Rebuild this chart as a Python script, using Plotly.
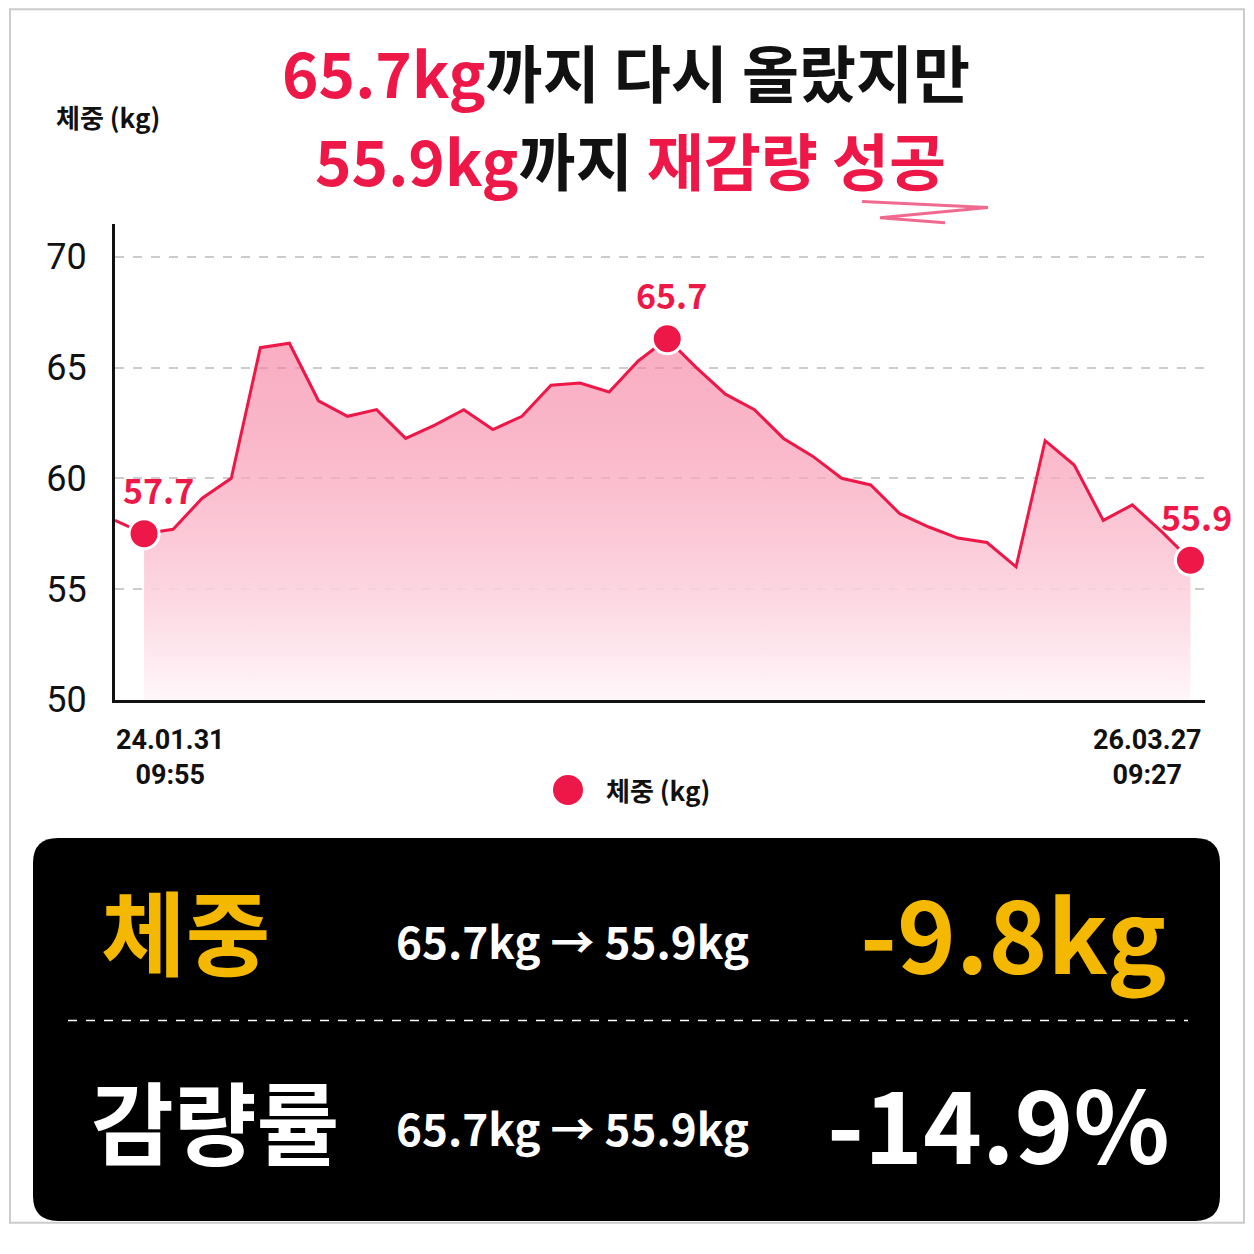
import plotly.graph_objects as go

# weight series (kg), roughly evenly spaced measurements
weights = [58.1, 57.5, 57.7, 59.1, 60.0, 65.9, 66.1, 63.5, 62.8, 63.1, 61.8, 62.4, 63.1,
           62.2, 62.8, 64.2, 64.3, 63.9, 65.3, 66.3, 65.0, 63.8, 63.1, 61.8, 61.0, 60.0,
           59.7, 58.4, 57.8, 57.3, 57.1, 56.0, 61.7, 60.6, 58.1, 58.8, 57.6, 56.3]
idx = list(range(len(weights)))
highlight_idx = [1, 19, 37]
highlight_txt = ["57.7", "65.7", "55.9"]
yticks = [50, 55, 60, 65, 70]
x_labels = ["24.01.31<br>09:55", "26.03.27<br>09:27"]

RED = "#EE1848"
YEL = "#F5B800"
FONT = "Noto Sans CJK KR"
OFF = 8  # page body margin
W = H = 1254 - 2 * OFF

def px_x(p): return (p - OFF) / W
def px_y(p): return 1 - ((p - 2) / 0.98 - OFF) / H

fig = go.Figure()
fig.add_trace(go.Scatter(x=idx[:2], y=weights[:2], mode="lines",
                         line=dict(color=RED, width=3), hoverinfo="skip"))
fig.add_trace(go.Scatter(x=idx[1:], y=weights[1:], mode="lines", fill="tozeroy",
                         line=dict(color=RED, width=3),
                         fillgradient=dict(type="vertical", start=50, stop=66,
                                           colorscale=[[0, "rgba(255,250,252,1)"],
                                                       [1, "rgba(245,120,155,0.6)"]])))
fig.add_trace(go.Scatter(x=highlight_idx, y=[weights[i] for i in highlight_idx],
                         mode="markers", marker=dict(size=30, color=RED,
                                                     line=dict(color="white", width=3))))

fig.update_layout(
    width=W, height=H, showlegend=False,
    paper_bgcolor="white", plot_bgcolor="rgba(0,0,0,0)",
    margin=dict(l=0, r=0, t=0, b=0),
    font=dict(family=FONT, color="#111"),
    xaxis=dict(domain=[px_x(115), px_x(1205)], range=[0, 37.5], showgrid=False,
               showticklabels=False, zeroline=False, showline=True,
               linecolor="#111", linewidth=3),
    yaxis=dict(domain=[px_y(700), px_y(225)], range=[50, 71.5], tickvals=yticks,
               tickfont=dict(size=36, family="Roboto", color="#111"), ticks="",
               ticklabelstandoff=18,
               showline=True, linecolor="#111", linewidth=3, zeroline=False,
               gridcolor="#cccccc", griddash="dash", gridwidth=1.5),
)

shapes = [
    dict(type="rect", xref="paper", yref="paper", x0=px_x(10), x1=px_x(1244),
         y0=0.001, y1=0.999, line=dict(color="#cccccc", width=2)),
    dict(type="path", xref="paper", yref="paper",
         path=f"M {px_x(58)} {px_y(838)} L {px_x(1195)} {px_y(838)} Q {px_x(1220)} {px_y(838)} {px_x(1220)} {px_y(863)}"
              f" L {px_x(1220)} {px_y(1195)} Q {px_x(1220)} {px_y(1220)} {px_x(1195)} {px_y(1220)}"
              f" L {px_x(58)} {px_y(1220)} Q {px_x(33)} {px_y(1220)} {px_x(33)} {px_y(1195)}"
              f" L {px_x(33)} {px_y(863)} Q {px_x(33)} {px_y(838)} {px_x(58)} {px_y(838)} Z",
         fillcolor="black", line=dict(width=0)),
    dict(type="line", xref="paper", yref="paper", x0=px_x(68), x1=px_x(1188),
         y0=px_y(1020), y1=px_y(1020), line=dict(color="white", width=1.5, dash="dash")),
    dict(type="circle", xref="paper", yref="paper", x0=px_x(553), x1=px_x(583),
         y0=px_y(805), y1=px_y(775), fillcolor=RED, line=dict(width=0)),
    dict(type="path", xref="paper", yref="paper",
         path=f"M {px_x(862)} {px_y(203)} L {px_x(988)} {px_y(209)} L {px_x(880)} {px_y(219)} L {px_x(945)} {px_y(224)}",
         line=dict(color="#F06A90", width=3)),
]
fig.update_layout(shapes=shapes)

def ann(text, x, y, size, color="#111", xanchor="center", family=FONT):
    fig.add_annotation(text=f"<b>{text}</b>", xref="paper", yref="paper",
                       x=px_x(x), y=px_y(y), xanchor=xanchor, yanchor="middle",
                       showarrow=False, font=dict(family=family, size=size, color=color))

ann(f"<span style='color:{RED}'>65.7kg</span>까지 다시 올랐지만", 626, 73, 62)
ann(f"<span style='color:{RED}'>55.9kg</span>까지 <span style='color:{RED}'>재감량 성공</span>", 630, 160, 62)
ann("체중 (kg)", 108, 118, 26)
for i, t in zip(highlight_idx, highlight_txt):
    fig.add_annotation(x=i, y=weights[i], text=f"<b>{t}</b>", showarrow=False, yshift=44,
                       xshift=14 if i == 1 else (6 if i == 37 else 4),
                       font=dict(family=FONT, size=34, color=RED))
ann(x_labels[0], 170, 758, 27, family="Roboto")
ann(x_labels[1], 1147, 758, 27, family="Roboto")
ann("체중 (kg)", 658, 790, 26)
ann("체중", 185, 928, 92, YEL)
ann("65.7kg → 55.9kg", 572, 940, 44, "white")
ann("-9.8kg", 1168, 930, 100, YEL, xanchor="right")
ann("감량률", 215, 1118, 90, "white")
ann("65.7kg → 55.9kg", 572, 1126, 44, "white")
ann("-14.9%", 1172, 1120, 100, "white", xanchor="right")

fig.write_html("out.html")
